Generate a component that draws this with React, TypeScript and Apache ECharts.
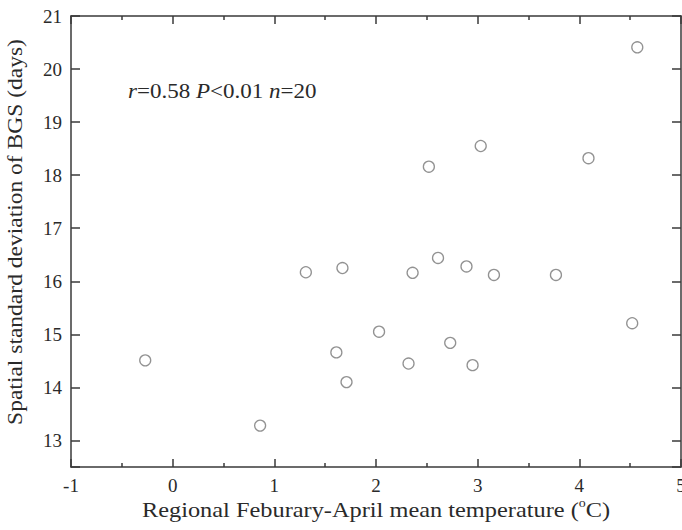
import React, { useEffect, useRef } from "react";
import * as echarts from "echarts";

const xValues = [-0.27, 0.86, 1.31, 1.67, 1.61, 1.71, 2.03, 2.32, 2.36, 2.52, 2.61, 2.73, 2.89, 2.95, 3.03, 3.16, 3.77, 4.09, 4.52, 4.57];
const yValues = [14.51, 13.28, 16.17, 16.25, 14.66, 14.1, 15.05, 14.45, 16.16, 18.16, 16.44, 14.84, 16.28, 14.42, 18.55, 16.12, 16.12, 18.32, 15.21, 20.41];
const xTitle = "Regional Feburary-April mean temperature (";
const yTitle = "Spatial standard deviation of BGS (days)";

const FONT = "Liberation Serif";
const AXIS_COLOR = "#3a3a3a";
const TEXT_COLOR = "#2a2a2a";

export default function App() {
  const ref = useRef<HTMLDivElement>(null);
  useEffect(() => {
    document.body.style.margin = "0";
    if (!ref.current) return;
    const chart = echarts.init(ref.current, undefined, { renderer: "svg" });
    const data = xValues.map((x, i) => [x, yValues[i]]);
    const lineStyle = { color: AXIS_COLOR, width: 1.5 };
    const intLabel = (v: number) => (Math.abs(v - Math.round(v)) < 1e-9 ? String(Math.round(v)) : "");
    const tickLabel = { margin: 9, color: TEXT_COLOR, fontSize: 19, fontFamily: FONT, formatter: intLabel, hideOverlap: false };
    chart.setOption({
      animation: false,
      backgroundColor: "#ffffff",
      textStyle: { fontFamily: FONT },
      grid: { left: 71, right: 1, top: 16, bottom: 63, containLabel: false, outerBoundsMode: "none" },
      xAxis: [
        {
          type: "value",
          min: -1,
          max: 5,
          interval: 1,
          position: "bottom",
          axisLine: { show: true, onZero: false, lineStyle },
          axisTick: { show: true, inside: true, length: 8, lineStyle },
          minorTick: { show: true, splitNumber: 2, length: 4, lineStyle },
          splitLine: { show: false },
          axisLabel: tickLabel,
        },
        {
          type: "value",
          min: -1,
          max: 5,
          interval: 1,
          position: "top",
          axisLine: { show: true, onZero: false, lineStyle },
          axisTick: { show: true, inside: true, length: 8, lineStyle },
          minorTick: { show: true, splitNumber: 2, length: 4, lineStyle },
          splitLine: { show: false },
          axisLabel: { show: false },
        },
      ],
      yAxis: [
        {
          type: "value",
          min: 12.5,
          max: 21,
          splitNumber: 8,
          position: "left",
          axisLine: { show: true, onZero: false, lineStyle },
          axisTick: { show: true, inside: true, length: 9, lineStyle },
          splitLine: { show: false },
          axisLabel: tickLabel,
        },
        {
          type: "value",
          min: 12.5,
          max: 21,
          splitNumber: 8,
          position: "right",
          axisLine: { show: true, onZero: false, lineStyle },
          axisTick: { show: true, inside: true, length: 9, lineStyle },
          splitLine: { show: false },
          axisLabel: { show: false },
        },
      ],
      graphic: [
        {
          type: "text",
          x: 376,
          y: 497,
          scaleX: 1.16,
          style: {
            text: "{a|" + xTitle + "}{s|o}{a|C)}",
            fontFamily: FONT,
            align: "center",
            verticalAlign: "top",
            rich: {
              a: { fontSize: 21, fontFamily: FONT, fill: TEXT_COLOR, verticalAlign: "bottom", lineHeight: 24 },
              s: { fontSize: 12, fontFamily: FONT, fill: TEXT_COLOR, verticalAlign: "top", lineHeight: 24 },
            },
          },
        },
        {
          type: "text",
          x: 15,
          y: 232,
          rotation: Math.PI / 2,
          scaleX: 1.12,
          style: {
            text: yTitle,
            fontSize: 21,
            fontFamily: FONT,
            fill: TEXT_COLOR,
            align: "center",
            verticalAlign: "middle",
          },
        },
        {
          type: "text",
          x: 128,
          y: 92,
          scaleX: 1.15,
          style: {
            text: "{i|r}{n|=0.58 }{i|P}{n|<0.01 }{i|n}{n|=20}",
            verticalAlign: "middle",
            rich: {
              i: { fontSize: 20, fontFamily: FONT, fontStyle: "italic", fill: TEXT_COLOR },
              n: { fontSize: 20, fontFamily: FONT, fill: TEXT_COLOR },
            },
          },
        },
      ],
      series: [
        {
          type: "scatter",
          data,
          symbol: "circle",
          symbolSize: 11,
          itemStyle: { color: "rgba(255,255,255,0)", borderColor: "#777777", borderWidth: 1.3 },
        },
      ],
    });
    return () => chart.dispose();
  }, []);
  return <div ref={ref} style={{ width: 682, height: 530 }} />;
}
